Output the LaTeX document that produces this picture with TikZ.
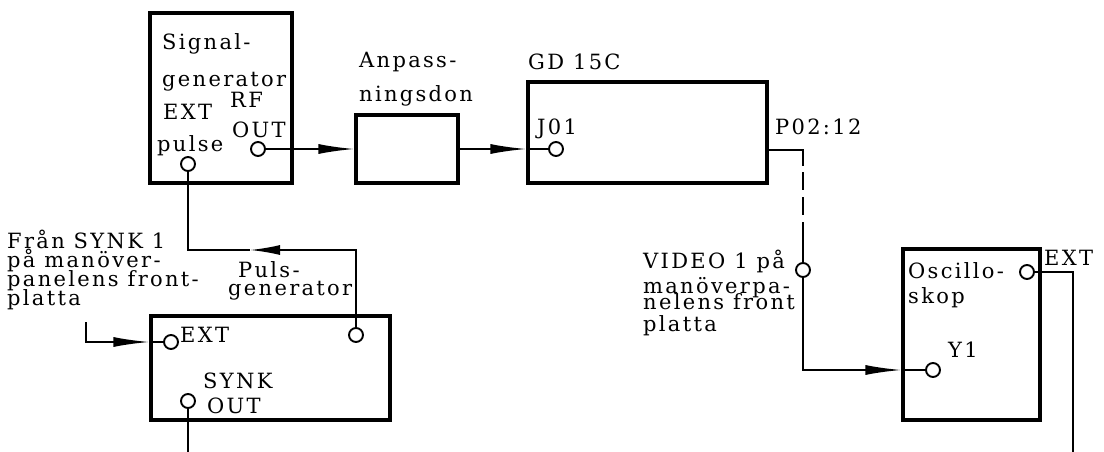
\documentclass[tikz,border=0pt]{standalone}
\usepackage{fontspec}
\setmainfont{DejaVu Serif}[LetterSpace=11]
\usetikzlibrary{arrows.meta}
\newcommand\lblfont{\fontsize{21}{21}\selectfont}
\newcommand\mlines[2]{\vtop{\baselineskip=#1\lineskiplimit=-1000pt\lineskip=0pt #2}}
\begin{document}
\begin{tikzpicture}[x=1pt,y=-1pt,
  box/.style={draw, line width=3.2pt, inner sep=0},
  port/.style={draw, circle, line width=1.9pt, minimum size=14pt, inner sep=0, fill=white},
  conn/.style={line width=1.8pt},
  arr/.style={-{Latex[length=36pt,width=10pt]}},
  lbl/.style={inner sep=0, anchor=base west, font=\lblfont}]
\useasboundingbox (0,0) rectangle (1104,452);

% boxes
\node[box, minimum width=142pt, minimum height=170pt] (sg)  at (221,98) {};
\node[box, minimum width=102pt, minimum height=68pt]  (anp) at (407,149) {};
\node[box, minimum width=239pt, minimum height=101pt] (gd)  at (647.5,132.5) {};
\node[box, minimum width=239pt, minimum height=104pt] (pg)  at (270.5,368) {};
\node[box, minimum width=137pt, minimum height=171pt] (osc) at (971.5,334.5) {};

% ports
\node[port] (rf)   at (258,149) {};
\node[port] (sgp)  at (188,164) {};
\node[port] (pext) at (171,342) {};
\node[port] (ptop) at (356,335) {};
\node[port] (sout) at (188,401) {};
\node[port] (j01)  at (556,149) {};
\node[port] (vid)  at (803,270) {};
\node[port] (oext) at (1027,272) {};
\node[port] (y1)   at (933,370) {};

% free ends / bends
\coordinate (ptip)  at (250,250);
\coordinate (fran)  at (86,322);
\coordinate (gdout) at (767,150);
\coordinate (send)  at (188,452);
\coordinate (oend)  at (1073,452);

% connectors
\draw[conn, arr] (rf.east) -- (anp.west);
\draw[conn, arr] (anp.east) -- (j01 -| gd.west);
\draw[conn] (j01 -| gd.west) -- (j01.west);
\draw[conn, -{Latex[length=30pt,width=10pt]}] (ptop.north) |- (ptip);
\draw[conn] (ptip) -| (sgp.south);
\draw[conn, arr] (fran) |- (pext -| pg.west);
\draw[conn] (pext -| pg.west) -- (pext.west);
\draw[conn] (sout.south) -- (send);
\draw[conn, dash pattern=on 52pt off 6pt on 18pt off 7pt on 18pt off 7pt on 200pt] (gdout) -| (vid.north);
\draw[conn, arr] (vid.south) |- (y1 -| osc.west);
\draw[conn] (y1 -| osc.west) -- (y1.west);
\draw[conn] (oext.east) -| (oend);

% labels
\node[lbl] (tsg)   at (162,50)  {\mlines{37pt}{\hbox{Signal-}\hbox{generator}}};
\node[lbl] (tsgp)  at (157,120) {\mlines{32pt}{\hbox{\kern6pt EXT}\hbox{pulse}}};
\node[lbl] (trf)   at (230,107) {\mlines{30pt}{\hbox{RF}\hbox{\kern2pt OUT}}};
\node[lbl] (tanp)  at (359,68)  {\mlines{34pt}{\hbox{Anpass-}\hbox{ningsdon}}};
\node[lbl] (tgd)   at (528,70)  {GD 15C};
\node[lbl] (tj01)  at (537,135) {J01};
\node[lbl] (tp02)  at (775,135) {P02:12};
\node[lbl] (tfran) at (7,248)   {\mlines{19pt}{\hbox{Från SYNK 1}\hbox{på manöver-}\hbox{panelens front-}\hbox{platta}}};
\node[lbl] (tpg)   at (228,277) {\mlines{18pt}{\hbox{\kern10pt Puls-}\hbox{generator}}};
\node[lbl] (tpext) at (180,342) {EXT};
\node[lbl] (tsync) at (203,388) {\mlines{25pt}{\hbox{SYNK}\hbox{\kern4pt OUT}}};
\node[lbl] (tvid)  at (643,268) {\mlines{20pt}{\hbox{VIDEO 1 på}\kern5pt\hbox{manöverpa-}\kern-4pt\hbox{nelens front}\kern2pt\hbox{platta}}};
\node[lbl] (tosc)  at (908,278) {\mlines{25pt}{\hbox{Oscillo-}\hbox{skop}}};
\node[lbl] (toext) at (1044,265) {EXT};
\node[lbl] (ty1)   at (948,357) {Y1};
\end{tikzpicture}
\end{document}
